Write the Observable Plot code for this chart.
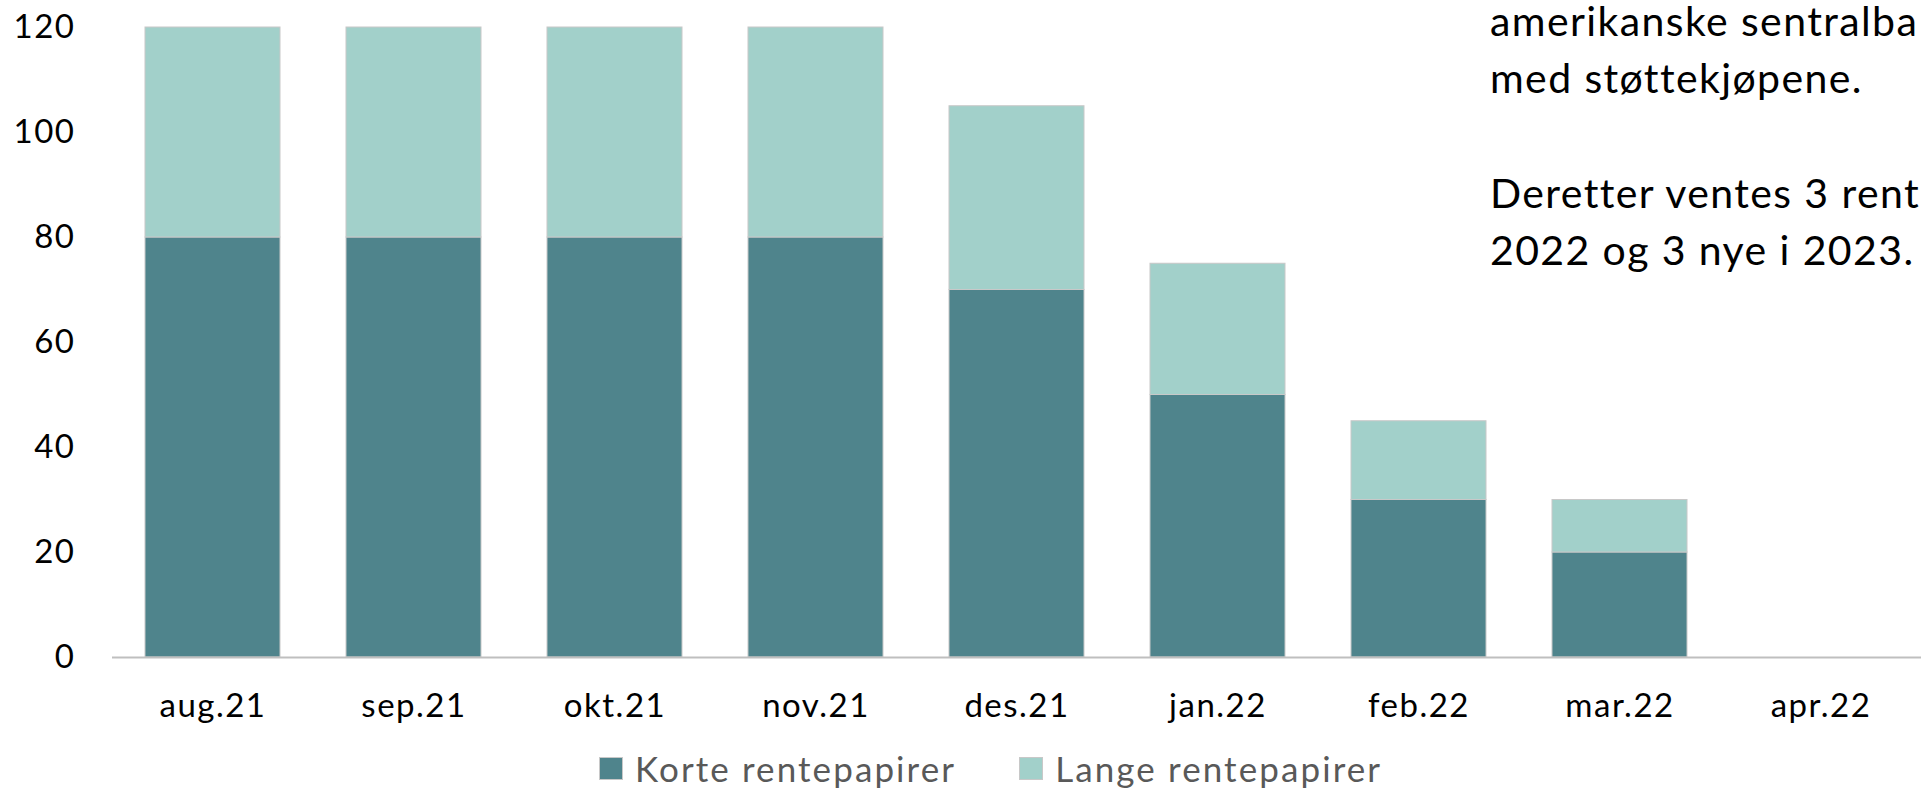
<!DOCTYPE html>
<html>
<head>
<meta charset="utf-8">
<script src="https://cdn.jsdelivr.net/npm/d3@7"></script>
<script src="https://cdn.jsdelivr.net/npm/@observablehq/plot@0.6"></script>
<style>
  html, body { margin: 0; padding: 0; background: #fff; overflow: hidden; }
  #wrap { position: relative; width: 1921px; height: 791px; overflow: hidden; }
  #note { position: absolute; left: 1490px; top: -8px; font-family: Lato, sans-serif; font-size: 41px; letter-spacing: 1.4px; line-height: 57.3px; color: #000; white-space: pre; }
  #legend { position: absolute; left: 599px; top: 751px; height: 35px; line-height: 35px; display: flex; align-items: center; font-family: Lato, sans-serif; font-size: 35px; color: #595959; letter-spacing: 2.1px; white-space: nowrap; }
  .item { display: flex; align-items: center; }
  .item:first-child { margin-right: 63px; }
  .sw { width: 24px; height: 23px; margin-right: 12px; box-sizing: border-box; border: 1px solid #c8c8c8; }
</style>
</head>
<body>
<div id="wrap"></div>
<script>
const months = ["aug.21","sep.21","okt.21","nov.21","des.21","jan.22","feb.22","mar.22","apr.22"];
const korte = [80, 80, 80, 80, 70, 50, 30, 20, 0];
const lange = [40, 40, 40, 40, 35, 25, 15, 10, 0];
const seriesNames = ["Korte rentepapirer", "Lange rentepapirer"];
const seriesColors = ["#4F848C", "#A2D0CA"];
const yTicks = [0, 20, 40, 60, 80, 100, 120];
const noteLines = ["amerikanske sentralba", "med støttekjøpene.", "", "Deretter ventes 3 rent", "2022 og 3 nye i 2023."];

const rows = [];
months.forEach((m, i) => {
  rows.push({month: m, series: seriesNames[0], value: korte[i]});
  rows.push({month: m, series: seriesNames[1], value: lange[i]});
});
const data = rows.filter(d => d.value > 0);

const chart = Plot.plot({
  width: 1921,
  height: 730,
  marginLeft: 112,
  marginRight: 0,
  marginTop: 27,
  marginBottom: 73,
  style: {fontFamily: "Lato, sans-serif", fontSize: "33px", color: "#000", background: "transparent", overflow: "visible"},
  x: {domain: months, paddingInner: 0.33, paddingOuter: 0.165, label: null, tickSize: 0, tickPadding: 36},
  y: {domain: [0, 120], ticks: yTicks, label: null, tickSize: 0, tickPadding: 37},
  color: {domain: seriesNames, range: seriesColors},
  marks: [
    Plot.barY(data, {x: "month", y: "value", fill: "series", stroke: "#c8c8c8", strokeWidth: 1}),
    Plot.ruleY([0], {stroke: "#BFBFBF", strokeWidth: 2})
  ]
});
chart.querySelectorAll("text").forEach(t => t.setAttribute("letter-spacing", "1.5"));

const wrap = document.getElementById("wrap");
wrap.appendChild(chart);

const note = document.createElement("div");
note.id = "note";
note.textContent = noteLines.join("\n");
wrap.appendChild(note);

const legend = document.createElement("div");
legend.id = "legend";
seriesNames.forEach((name, i) => {
  const item = document.createElement("div");
  item.className = "item";
  const sw = document.createElement("div");
  sw.className = "sw";
  sw.style.background = seriesColors[i];
  const label = document.createElement("span");
  label.textContent = name;
  item.appendChild(sw);
  item.appendChild(label);
  legend.appendChild(item);
});
wrap.appendChild(legend);
</script>
</body>
</html>
